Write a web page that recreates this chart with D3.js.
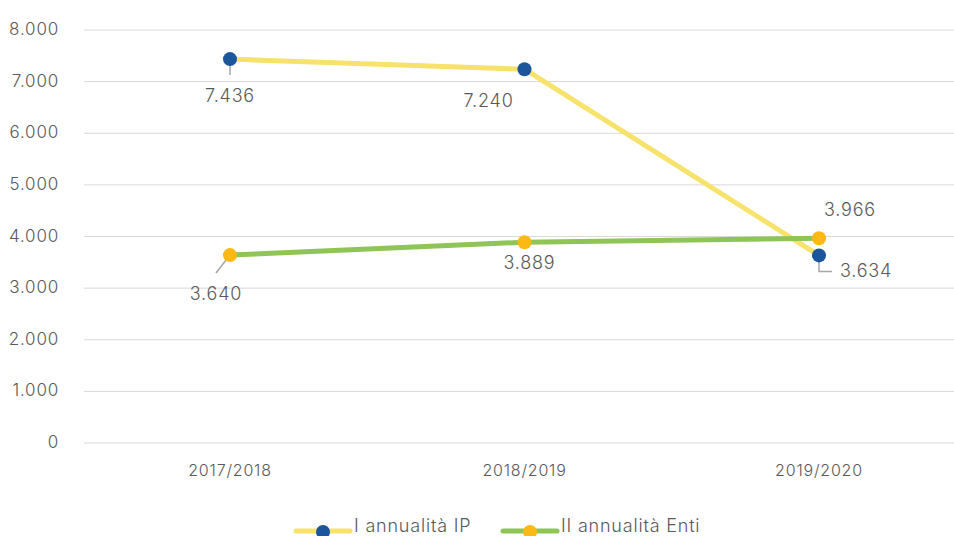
<!DOCTYPE html>
<html>
<head>
  <meta charset="UTF-8">
  <style>
    body { margin: 0; background: #fff; font-family: "Inter", "Lato", sans-serif; }
    svg text { fill: #595959; font-weight: 300; letter-spacing: 0.8px; }
  </style>
</head>
<body>
  <svg width="954" height="536"></svg>
  <script src="https://d3js.org/d3.v7.min.js"></script>
  <script>
    let width = 954, height = 536;

    let categories = ["2017/2018", "2018/2019", "2019/2020"];
    let seriesNames = ["I annualità IP", "II annualità Enti"];
    let ipValues = [7436, 7240, 3634];
    let entiValues = [3640, 3889, 3966];
    let yTicks = [0, 1000, 2000, 3000, 4000, 5000, 6000, 7000, 8000];

    let lineColors = ["#F7E26B", "#8FC456"];
    let dotColors = ["#1B559C", "#FDB913"];

    let svg = d3.select("svg");

    let x = d3.scalePoint().domain(categories).range([230, 819]);
    let y = d3.scaleLinear().domain([0, 8000]).range([443, 30]);

    let fmt = d => d3.format(",")(d).replace(/,/g, ".");

    // grid
    svg.append("g").selectAll("line")
      .data(yTicks)
      .enter()
      .append("line")
      .attr("x1", 84).attr("x2", 954)
      .attr("y1", d => y(d)).attr("y2", d => y(d))
      .attr("stroke", "#d9d9d9")
      .attr("stroke-width", 1);

    svg.append("g").selectAll("text")
      .data(yTicks)
      .enter()
      .append("text")
      .attr("x", 59)
      .attr("y", d => y(d) + 5)
      .attr("text-anchor", "end")
      .style("font-size", "17px")
      .text(d => fmt(d));

    svg.append("g").selectAll("text")
      .data(categories)
      .enter()
      .append("text")
      .attr("x", d => x(d))
      .attr("y", 476)
      .attr("text-anchor", "middle")
      .style("font-size", "16px")
      .text(d => d);

    let series = [ipValues, entiValues];
    let line = d3.line().x((d, i) => x(categories[i])).y(d => y(d));

    series.forEach((vals, s) => {
      svg.append("path")
        .datum(vals)
        .attr("d", line)
        .attr("fill", "none")
        .attr("stroke", lineColors[s])
        .attr("stroke-width", 5)
        .attr("stroke-linejoin", "round");
    });

    // leader lines (drawn under markers)
    let leaders = svg.append("g").attr("stroke", "#a6a6a6").attr("stroke-width", 1.5).attr("fill", "none");
    leaders.append("path")
      .attr("d", `M${x(categories[0])},${y(ipValues[0])} V${y(ipValues[0]) + 16}`);
    leaders.append("path")
      .attr("d", `M${x(categories[0])},${y(entiValues[0])} L${x(categories[0]) - 14},${y(entiValues[0]) + 18}`);
    leaders.append("path")
      .attr("d", `M${x(categories[2])},${y(ipValues[2])} V${y(ipValues[2]) + 16} H${x(categories[2]) + 13}`);

    series.forEach((vals, s) => {
      svg.append("g").selectAll("circle")
        .data(vals)
        .enter()
        .append("circle")
        .attr("cx", (d, i) => x(categories[i]))
        .attr("cy", d => y(d))
        .attr("r", 7)
        .attr("fill", dotColors[s]);
    });

    // data labels: offsets relative to point
    let ipOffsets = [[0, 43], [-36, 38], [47, 22]];
    let entiOffsets = [[-14, 45], [5, 27], [31, -22]];
    let labelSets = [[ipValues, ipOffsets], [entiValues, entiOffsets]];
    labelSets.forEach(([vals, offs]) => {
      svg.append("g").selectAll("text")
        .data(vals)
        .enter()
        .append("text")
        .attr("x", (d, i) => x(categories[i]) + offs[i][0])
        .attr("y", (d, i) => y(d) + offs[i][1])
        .attr("text-anchor", "middle")
        .style("font-size", "18px")
        .text(d => fmt(d));
    });

    // legend
    let legendX = [296, 503];
    let legend = svg.append("g");
    seriesNames.forEach((name, s) => {
      let g = legend.append("g").attr("transform", `translate(${legendX[s]},531)`);
      g.append("line").attr("x1", 0).attr("x2", 54).attr("y1", 0).attr("y2", 0)
        .attr("stroke", lineColors[s]).attr("stroke-width", 5).attr("stroke-linecap", "round");
      g.append("circle").attr("cx", 27).attr("cy", 1).attr("r", 7).attr("fill", dotColors[s]);
      g.append("text").attr("x", 58).attr("y", 1).style("font-size", "18px").text(name);
    });
  </script>
</body>
</html>
